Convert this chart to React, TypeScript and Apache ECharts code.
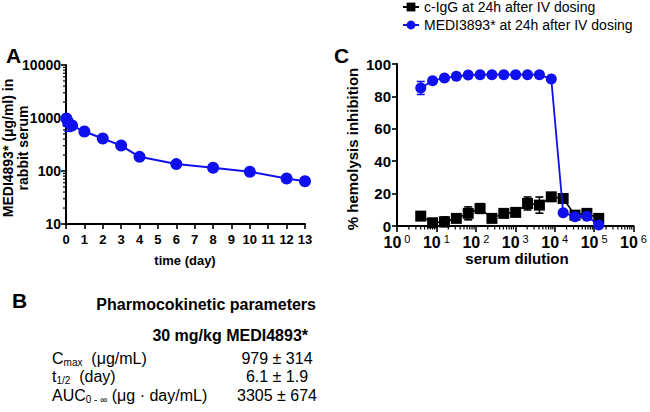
import React, { useEffect, useRef } from 'react';
import * as echarts from 'echarts';

const FONT = '"Liberation Sans", Arial, sans-serif';
const BLUE = '#1010ee';
const BLACK = '#000000';

// Panel A: PK curve
const pkDays = [0.02, 0.125, 0.33, 1, 2, 3, 4, 6, 8, 10, 12, 13];
const pkConc = [979, 820, 720, 555, 410, 302, 185, 135, 115, 97, 72, 64];
const pkLow = [730, 560, 640, 470, 385, 285, 175, 128, 109, 92, 68, 60];
const pkHigh = [1150, 1000, 800, 640, 435, 320, 196, 142, 121, 102, 76, 68];
const pkYTicks = [10, 100, 1000, 10000];

// Panel C: hemolysis inhibition
const dilutions = [4, 8, 16, 32, 64, 128, 256, 512, 1024, 2048, 4096, 8192, 16384, 32768, 65536, 131072];
const iggName = 'c-IgG at 24h after IV dosing';
const mediName = 'MEDI3893* at 24h after IV dosing';
const iggVals = [6.1, 2, 2.6, 4.7, 7.8, 10.8, 4.7, 7.8, 8.4, 13.9, 12.9, 18, 17, 6.7, 7.8, 4.7];
const iggSd = [1, 1, 3, 1.5, 4, 3, 1, 1.5, 2, 4, 5, 1, 1, 1, 1, 1];
const mediVals = [85.2, 89.7, 91.3, 92.4, 93.2, 93.4, 93.4, 93.4, 93.4, 93.4, 93.4, 90.7, 8.2, 5.7, 6, 0.6];
const mediSd = [4, 1, 0.8, 0.5, 0.5, 0.5, 0.5, 0.5, 0.5, 0.5, 0.5, 1, 1, 1, 1, 1];

// Panel B table
const pkParamLabels = ['{n|C}{sub|max}{n|  (μg/mL)}', '{n|t}{sub|1/2}{n|  (day)}', '{n|AUC}{sub|0 - ∞}{n| (μg · day/mL)}'];
const pkParamValues = ['979 ± 314', '6.1 ± 1.9', '3305 ± 674'];

const minorLog = (from: number, to: number) => {
  const out: number[] = [];
  for (let d = from; d < to; d *= 10) {
    for (let k = 2; k <= 9; k++) out.push(d * k);
  }
  return out;
};

const errRender = (color: string, cap: number) => (params: any, api: any) => {
  const x = api.value(0);
  const lo = api.value(1);
  const hi = api.value(2);
  const p1 = api.coord([x, lo]);
  const p2 = api.coord([x, hi]);
  const st = { stroke: color, lineWidth: 1.6 };
  return {
    type: 'group',
    children: [
      { type: 'line', shape: { x1: p1[0], y1: p1[1], x2: p2[0], y2: p2[1] }, style: st },
      { type: 'line', shape: { x1: p1[0] - cap, y1: p1[1], x2: p1[0] + cap, y2: p1[1] }, style: st },
      { type: 'line', shape: { x1: p2[0] - cap, y1: p2[1], x2: p2[0] + cap, y2: p2[1] }, style: st },
    ],
  };
};

const App: React.FC = () => {
  const ref = useRef<HTMLDivElement>(null);

  useEffect(() => {
    if (!ref.current) return;
    const chart = echarts.init(ref.current, undefined, { renderer: 'svg' });

    const axisLine = { show: true, lineStyle: { color: BLACK, width: 2 } };
    const axisTick = { show: true, length: 5, lineStyle: { color: BLACK, width: 1.6 } };

    const tableText: any[] = [];
    pkParamLabels.forEach((t, i) => {
      const y = 358 + i * 18.5;
      tableText.push({
        type: 'text',
        x: 52,
        y,
        style: {
          text: t,
          rich: {
            n: { fontSize: 16, fontFamily: FONT, fill: BLACK, lineHeight: 18 },
            sub: { fontSize: 10, fontFamily: FONT, fill: BLACK, lineHeight: 6, verticalAlign: 'bottom' },
          },
          verticalAlign: 'middle',
          textVerticalAlign: 'middle',
          align: 'left',
          textAlign: 'left',
        },
      });
      tableText.push({
        type: 'text',
        x: 277,
        y,
        style: {
          text: pkParamValues[i],
          fontSize: 16,
          fontFamily: FONT,
          fill: BLACK,
          align: 'center',
          textAlign: 'center',
          verticalAlign: 'middle',
          textVerticalAlign: 'middle',
        },
      });
    });

    const txt = (text: string, x: number, y: number, size: number, bold: boolean, align: string, rot = 0) => ({
      type: 'text',
      x,
      y,
      rotation: rot,
      style: {
        text,
        fontSize: size,
        fontWeight: bold ? 'bold' : 'normal',
        fontFamily: FONT,
        fill: BLACK,
        align,
        textAlign: align,
        verticalAlign: 'middle',
        textVerticalAlign: 'middle',
      },
    });

    const option: any = {
      animation: false,
      backgroundColor: '#ffffff',
      textStyle: { fontFamily: FONT },
      legend: {
        data: [iggName, mediName],
        orient: 'vertical',
        left: 402,
        top: 0,
        padding: 0,
        itemWidth: 16,
        itemHeight: 11,
        itemGap: 4,
        textStyle: { fontSize: 14, color: BLACK, fontFamily: FONT },
      },
      grid: [
        { left: 66, top: 65, width: 239, height: 159 },
        { left: 397, top: 64, width: 241, height: 162 },
      ],
      xAxis: [
        {
          gridIndex: 0,
          type: 'value',
          min: 0,
          max: 13,
          interval: 1,
          axisLine,
          axisTick,
          splitLine: { show: false },
          axisLabel: { color: BLACK, fontWeight: 'bold', fontSize: 13, margin: 9, fontFamily: FONT },
        },
        {
          gridIndex: 1,
          type: 'log',
          logBase: 10,
          min: 1,
          max: 1000000,
          axisLine,
          axisTick: { show: true, length: 6, lineStyle: { color: BLACK, width: 1.6 } },
          splitLine: { show: false },
          axisLabel: {
            margin: 7,
            formatter: (v: number) => '{b|10}{s|' + Math.round(Math.log10(v)) + '}',
            rich: {
              b: { fontSize: 16, fontWeight: 'bold', color: BLACK, fontFamily: FONT, lineHeight: 18 },
              s: { fontSize: 11, color: BLACK, fontFamily: FONT, lineHeight: 11, verticalAlign: 'top', padding: [0, 0, 0, 3] },
            },
          },
        },
      ],
      yAxis: [
        {
          gridIndex: 0,
          type: 'log',
          logBase: 10,
          min: pkYTicks[0],
          max: pkYTicks[pkYTicks.length - 1],
          axisLine,
          axisTick,
          splitLine: { show: false },
          axisLabel: {
            color: BLACK,
            fontWeight: 'bold',
            fontSize: 14,
            margin: 5,
            fontFamily: FONT,
            formatter: (v: number) => String(Math.round(v)),
          },
        },
        {
          gridIndex: 1,
          type: 'value',
          min: 0,
          max: 100,
          interval: 20,
          axisLine,
          axisTick,
          splitLine: { show: false },
          axisLabel: { color: BLACK, fontWeight: 'bold', fontSize: 15, margin: 6, fontFamily: FONT },
        },
      ],
      graphic: [
        txt('A', 6, 55, 21, true, 'left'),
        txt('C', 334, 55, 21, true, 'left'),
        txt('B', 12, 300, 21, true, 'left'),
        txt('MEDI4893* (μg/ml) in', 8, 148, 14, true, 'center', Math.PI / 2),
        txt('rabbit serum', 23, 148, 14, true, 'center', Math.PI / 2),
        txt('time (day)', 185, 260, 13, true, 'center'),
        txt('% hemolysis inhibition', 352, 149, 15, true, 'center', Math.PI / 2),
        txt('serum dilution', 517, 258, 15, true, 'center'),
        txt('Pharmocokinetic parameters', 316, 304, 16, true, 'right'),
        txt('30 mg/kg MEDI4893*', 308, 335, 16, true, 'right'),
        ...tableText,
      ],
      series: [
        {
          type: 'custom',
          xAxisIndex: 0,
          yAxisIndex: 0,
          clip: false,
          renderItem: (params: any, api: any) => {
            const p = api.coord([api.value(0), api.value(1)]);
            return { type: 'line', shape: { x1: p[0] - 3, y1: p[1], x2: p[0], y2: p[1] }, style: { stroke: BLACK, lineWidth: 1.2 } };
          },
          data: minorLog(10, 10000).map((v) => [0, v]),
          silent: true,
          z: 1,
        },
        {
          type: 'custom',
          xAxisIndex: 1,
          yAxisIndex: 1,
          clip: false,
          renderItem: (params: any, api: any) => {
            const p = api.coord([api.value(0), api.value(1)]);
            return { type: 'line', shape: { x1: p[0], y1: p[1], x2: p[0], y2: p[1] + 3.5 }, style: { stroke: BLACK, lineWidth: 1.2 } };
          },
          data: minorLog(1, 1000000).map((v) => [v, 0]),
          silent: true,
          z: 1,
        },
        {
          type: 'custom',
          xAxisIndex: 0,
          yAxisIndex: 0,
          clip: false,
          renderItem: errRender(BLUE, 4),
          encode: { x: 0, y: [1, 2] },
          data: pkDays.map((d, i) => [d, pkLow[i], pkHigh[i]]),
          z: 2,
        },
        {
          name: 'pk',
          type: 'line',
          xAxisIndex: 0,
          yAxisIndex: 0,
          data: pkDays.map((d, i) => [d, pkConc[i]]),
          symbol: 'circle',
          symbolSize: 12,
          itemStyle: { color: BLUE },
          lineStyle: { color: BLUE, width: 2 },
          z: 3,
        },
        {
          type: 'custom',
          xAxisIndex: 1,
          yAxisIndex: 1,
          clip: false,
          renderItem: errRender(BLACK, 4),
          encode: { x: 0, y: [1, 2] },
          data: dilutions.map((d, i) => [d, iggVals[i] - iggSd[i], iggVals[i] + iggSd[i]]),
          z: 2,
        },
        {
          name: iggName,
          type: 'line',
          xAxisIndex: 1,
          yAxisIndex: 1,
          data: dilutions.map((d, i) => [d, iggVals[i]]),
          symbol: 'rect',
          symbolSize: 11,
          itemStyle: { color: BLACK },
          lineStyle: { color: BLACK, width: 1.6 },
          z: 3,
        },
        {
          type: 'custom',
          xAxisIndex: 1,
          yAxisIndex: 1,
          clip: false,
          renderItem: errRender(BLUE, 4),
          encode: { x: 0, y: [1, 2] },
          data: dilutions.map((d, i) => [d, mediVals[i] - mediSd[i], mediVals[i] + mediSd[i]]),
          z: 4,
        },
        {
          name: mediName,
          type: 'line',
          xAxisIndex: 1,
          yAxisIndex: 1,
          data: dilutions.map((d, i) => [d, mediVals[i]]),
          symbol: 'circle',
          symbolSize: 11,
          itemStyle: { color: BLUE },
          lineStyle: { color: BLUE, width: 1.8 },
          z: 5,
        },
      ],
    };

    chart.setOption(option);
    return () => {
      chart.dispose();
    };
  }, []);

  return (
    <div
      ref={ref}
      style={{ position: 'fixed', left: 0, top: 0, width: 650, height: 412, background: '#fff' }}
    />
  );
};

export default App;
